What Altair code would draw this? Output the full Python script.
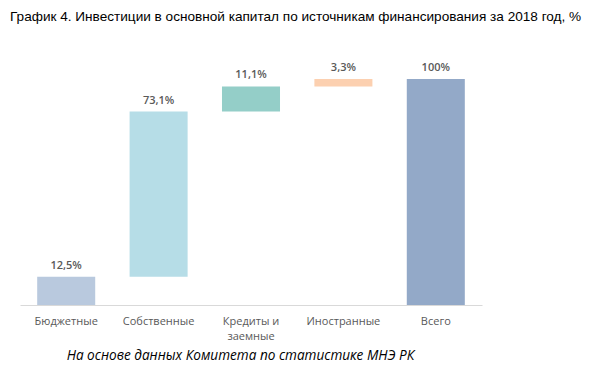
import altair as alt
import pandas as pd

categories = ["Бюджетные", "Собственные", "Кредиты и заемные", "Иностранные", "Всего"]
values = [12.5, 73.1, 11.1, 3.3, 100.0]
labels = ["12,5%", "73,1%", "11,1%", "3,3%", "100%"]
colors = ["#b9c9de", "#b6dde7", "#94cec8", "#fcd0b0", "#93a9c8"]
is_total = [False, False, False, False, True]

starts, ends = [], []
cum = 0.0
for v, t in zip(values, is_total):
    if t:
        starts.append(0.0)
        ends.append(v)
    else:
        starts.append(cum)
        cum += v
        ends.append(cum)

df = pd.DataFrame({"cat": categories, "start": starts, "end": ends,
                   "label": labels, "color": colors})

x = alt.X("cat:N", sort=categories,
          scale=alt.Scale(paddingInner=0.372, paddingOuter=0.186),
          axis=alt.Axis(title="На основе данных Комитета по статистике МНЭ РК",
                        titleFont="Open Sans", titleFontStyle="italic",
                        titleFontWeight="normal", titleFontSize=13.6,
                        titleColor="#000000", titleX=220, titleY=50,
                        titleBaseline="middle", titleAnchor="start", titleAlign="center",
                        labelAngle=0, labelFont="Open Sans", labelFontSize=11,
                        labelColor="#595959", labelPadding=10, labelLineHeight=15,
                        labelExpr="datum.label == 'Кредиты и заемные' ? ['Кредиты и', 'заемные'] : datum.label",
                        ticks=False, domainColor="#d9d9d9", domainWidth=1,
                        grid=False))
y = alt.Y("start:Q", scale=alt.Scale(domain=[0, 100], nice=False), axis=None)

bars = alt.Chart(df).mark_bar().encode(
    x=x, y=y, y2="end:Q",
    color=alt.Color("color:N", scale=None),
)
text = alt.Chart(df).mark_text(dy=-11, font="Open Sans", fontSize=11,
                               fontWeight=600, color="#595959").encode(
    x=alt.X("cat:N", sort=categories), y="end:Q", text="label:N")

chart = alt.layer(bars, text).properties(
    width=462, height=226,
    title=alt.TitleParams("График 4. Инвестиции в основной капитал по источникам финансирования за 2018 год, %",
                          anchor="start", frame="group", dx=-10, offset=38,
                          font="Liberation Sans", fontSize=13.6, fontWeight="normal",
                          color="#000000"),
    autosize=alt.AutoSizeParams(type="none"),
    padding={"left": 12, "top": 71, "right": 108, "bottom": 58},
).configure_view(stroke=None)

chart.save("out.html", embed_options={"renderer": "svg", "actions": False})
